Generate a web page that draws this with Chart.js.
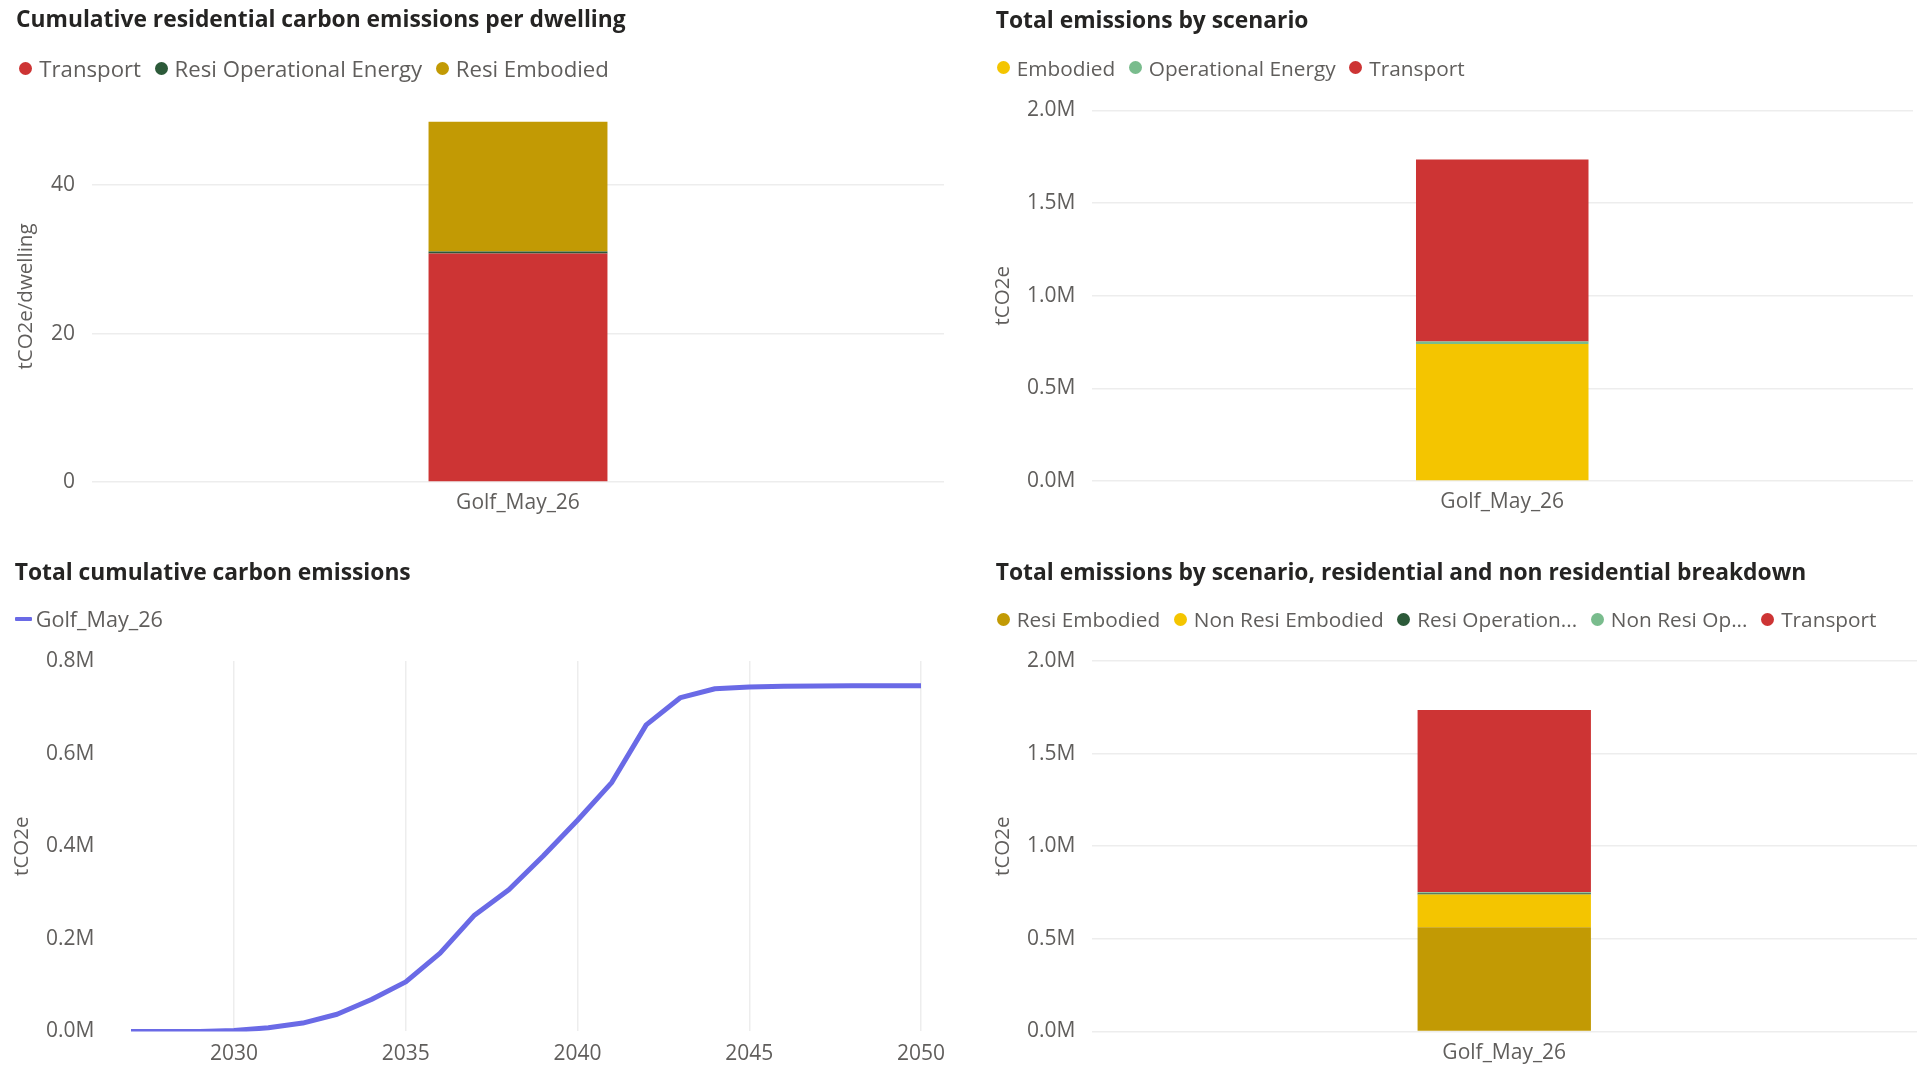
<!DOCTYPE html>
<html>
<head>
<meta charset="utf-8">
<title>Carbon emissions dashboard</title>
<script src="https://cdn.jsdelivr.net/npm/chart.js@4.4.1/dist/chart.umd.min.js"></script>
<style>
  html, body { margin: 0; padding: 0; background: #ffffff; }
  body { width: 1923px; height: 1067px; position: relative; overflow: hidden; font-family: 'Open Sans', sans-serif; }
  .panel { position: absolute; }
  .panel canvas { position: absolute; left: 0; top: 0; }
  .title { position: absolute; white-space: nowrap; font-weight: 700; font-size: 22.8px; color: #252423; line-height: 30px; height: 30px; }
  .legend { position: absolute; white-space: nowrap; font-size: 20.8px; color: #605E5C; line-height: 30px; height: 30px; display: flex; align-items: center; }
  .legend.large { font-size: 22.2px; }
  .legend.line { font-size: 21.6px; }
  .legend .item { display: flex; align-items: center; margin-right: 13.6px; }
  .legend .dot { width: 13px; height: 13px; border-radius: 50%; margin-right: 7px; flex: none; }
  .legend .dash { width: 17px; height: 4px; margin-right: 4px; flex: none; border-radius: 1px; }
</style>
</head>
<body>

<div class="panel" style="left:0px; top:0px; width:960px; height:545px">
  <canvas id="cDwelling" width="960" height="545" style="width:960px;height:545px"></canvas>
  <div class="title" style="left:16px; top:4px">Cumulative residential carbon emissions per dwelling</div>
  <div class="legend large" id="lgDwelling" style="left:19.3px; top:53.7px"></div>
</div>

<div class="panel" style="left:980px; top:0px; width:943px; height:545px">
  <canvas id="cScenario" width="943" height="545" style="width:943px;height:545px"></canvas>
  <div class="title" style="left:15.8px; top:4.8px">Total emissions by scenario</div>
  <div class="legend" id="lgScenario" style="left:16.7px; top:52.5px"></div>
</div>

<div class="panel" style="left:0px; top:550px; width:960px; height:517px">
  <canvas id="cCumulative" width="960" height="517" style="width:960px;height:517px"></canvas>
  <div class="title" style="left:14.7px; top:6.7px">Total cumulative carbon emissions</div>
  <div class="legend line" id="lgCumulative" style="left:14.7px; top:54.3px"></div>
</div>

<div class="panel" style="left:980px; top:550px; width:943px; height:517px">
  <canvas id="cBreakdown" width="943" height="517" style="width:943px;height:517px"></canvas>
  <div class="title" style="left:15.8px; top:6.7px">Total emissions by scenario, residential and non residential breakdown</div>
  <div class="legend" id="lgBreakdown" style="left:16.7px; top:54.3px"></div>
</div>

<script>
// ---- Data -------------------------------------------------------------
const scenarios = ["Golf_May_26"];

// Cumulative residential emissions per dwelling (tCO2e/dwelling)
const dwellingSeries = ["Transport", "Resi Operational Energy", "Resi Embodied"];
const dwellingTransport = [30.8];
const dwellingResiOperational = [0.25];
const dwellingResiEmbodied = [17.5];

// Total emissions by scenario (tCO2e)
const scenarioSeries = ["Embodied", "Operational Energy", "Transport"];
const scenarioEmbodied = [740000];
const scenarioOperational = [13000];
const scenarioTransport = [983000];

// Residential / non residential breakdown (tCO2e)
const breakdownSeries = ["Resi Embodied", "Non Resi Embodied", "Resi Operational Energy", "Non Resi Operational Energy", "Transport"];
const breakdownLegendText = ["Resi Embodied", "Non Resi Embodied", "Resi Operation...", "Non Resi Op...", "Transport"];
const resiEmbodied = [563000];
const nonResiEmbodied = [176000];
const resiOperational = [7000];
const nonResiOperational = [6000];
const breakdownTransport = [984000];

// Total cumulative carbon emissions over time (tCO2e)
const years = [2027, 2028, 2029, 2030, 2031, 2032, 2033, 2034, 2035, 2036, 2037, 2038,
               2039, 2040, 2041, 2042, 2043, 2044, 2045, 2046, 2047, 2048, 2049, 2050];
const cumulativeEmissions = [0, 0, 0, 2000, 8000, 18000, 37000, 69000, 107000, 169000, 251000, 306000,
                             379000, 456000, 538000, 662000, 721000, 740000, 744000, 745500, 746000, 746500, 746500, 746500];
const yearTicks = [2030, 2035, 2040, 2045, 2050];

// ---- Styling ----------------------------------------------------------
const COLORS = {
  transport: '#CD3434',
  resiOperational: '#2C5A39',
  resiEmbodied: '#C29A04',
  embodied: '#F4C500',
  operational: '#79BC8D',
  line: '#6A6AE6'
};
const TEXT_GREY = '#605E5C';
const GRID = '#EDEDED';
const TICK_FONT = { family: 'Open Sans', size: 21 };
const AXIS_TITLE_FONT = { family: 'Open Sans', size: 20.5 };

Chart.defaults.font.family = 'Open Sans';
Chart.defaults.color = TEXT_GREY;

const fmtMillions = v => (v / 1e6).toFixed(1) + 'M';

// HTML legend built from the chart's own legend items
const htmlLegend = {
  id: 'htmlLegend',
  afterUpdate(chart, args, opts) {
    const box = document.getElementById(opts.containerID);
    if (!box) return;
    box.innerHTML = '';
    const items = chart.options.plugins.legend.labels.generateLabels(chart);
    items.forEach((it, i) => {
      const el = document.createElement('span');
      el.className = 'item';
      const mark = document.createElement('span');
      mark.className = opts.marker === 'line' ? 'dash' : 'dot';
      mark.style.background = opts.marker === 'line' ? it.strokeStyle : it.fillStyle;
      const tx = document.createElement('span');
      tx.textContent = (opts.texts && opts.texts[i]) || it.text;
      el.appendChild(mark);
      el.appendChild(tx);
      box.appendChild(el);
    });
  }
};

// Value axis with a fixed box width so the plot area sits where intended
function valueAxis(cfg) {
  return {
    stacked: cfg.stacked,
    min: 0,
    max: cfg.max,
    border: { display: false },
    grid: { display: cfg.grid !== false, color: GRID, lineWidth: 1.5, drawTicks: false },
    ticks: { stepSize: cfg.step, includeBounds: false, padding: cfg.tickPad, color: TEXT_GREY, font: TICK_FONT, callback: cfg.format },
    title: { display: true, text: cfg.title, color: TEXT_GREY, font: AXIS_TITLE_FONT, padding: { top: cfg.titlePad, bottom: 0 } },
    afterFit(scale) { scale.width = cfg.width; scale.paddingTop = 0; scale.paddingBottom = 0; }
  };
}

function categoryAxis(cfg) {
  return {
    stacked: true,
    border: { display: false },
    grid: { display: false, drawTicks: false },
    ticks: { padding: cfg.tickPad, color: TEXT_GREY, font: TICK_FONT },
    afterFit(scale) { scale.height = cfg.height; scale.paddingLeft = 0; scale.paddingRight = 0; }
  };
}

function bar(label, data, color) {
  return { label, data, backgroundColor: color, borderWidth: 0, barPercentage: 0.21, categoryPercentage: 1 };
}

function baseOptions(padding) {
  return {
    responsive: false,
    animation: false,
    devicePixelRatio: 1,
    layout: { padding },
    plugins: { legend: { display: false }, title: { display: false }, tooltip: { enabled: false } }
  };
}

// ---- Cumulative residential carbon emissions per dwelling -------------
new Chart(document.getElementById('cDwelling'), {
  type: 'bar',
  data: {
    labels: scenarios,
    datasets: [
      bar(dwellingSeries[0], dwellingTransport, COLORS.transport),
      bar(dwellingSeries[1], dwellingResiOperational, COLORS.resiOperational),
      bar(dwellingSeries[2], dwellingResiEmbodied, COLORS.resiEmbodied)
    ]
  },
  options: Object.assign(baseOptions({ left: 0, top: 111, right: 16, bottom: 0 }), {
    scales: {
      x: categoryAxis({ height: 545 - 482, tickPad: 8.5 }),
      y: valueAxis({ stacked: true, max: 50, step: 20, width: 92, tickPad: 17, title: 'tCO2e/dwelling', titlePad: 13.5, format: v => String(v) })
    },
    plugins: { legend: { display: false }, tooltip: { enabled: false }, htmlLegend: { containerID: 'lgDwelling' } }
  }),
  plugins: [htmlLegend]
});

// ---- Total emissions by scenario --------------------------------------
new Chart(document.getElementById('cScenario'), {
  type: 'bar',
  data: {
    labels: scenarios,
    datasets: [
      bar(scenarioSeries[0], scenarioEmbodied, COLORS.embodied),
      bar(scenarioSeries[1], scenarioOperational, COLORS.operational),
      bar(scenarioSeries[2], scenarioTransport, COLORS.transport)
    ]
  },
  options: Object.assign(baseOptions({ left: 0, top: 110.5, right: 10, bottom: 0 }), {
    scales: {
      x: categoryAxis({ height: 545 - 481, tickPad: 8 }),
      y: valueAxis({ stacked: true, max: 2000000, step: 500000, width: 111.5, tickPad: 16, title: 'tCO2e', titlePad: 10.7, format: fmtMillions })
    },
    plugins: { legend: { display: false }, tooltip: { enabled: false }, htmlLegend: { containerID: 'lgScenario' } }
  }),
  plugins: [htmlLegend]
});

// ---- Total cumulative carbon emissions --------------------------------
new Chart(document.getElementById('cCumulative'), {
  type: 'line',
  data: {
    datasets: [{
      label: scenarios[0],
      data: years.map((y, i) => ({ x: y, y: cumulativeEmissions[i] })),
      borderColor: COLORS.line,
      backgroundColor: COLORS.line,
      borderWidth: 5,
      borderCapStyle: 'round',
      borderJoinStyle: 'round',
      pointRadius: 0,
      tension: 0,
      fill: false
    }]
  },
  options: Object.assign(baseOptions({ left: 0, top: 111, right: 39, bottom: 0 }), {
    scales: {
      x: {
        type: 'linear',
        min: years[0],
        max: years[years.length - 1],
        border: { display: false },
        grid: { display: true, color: GRID, lineWidth: 1.5, drawTicks: false },
        ticks: { padding: 10.5, color: TEXT_GREY, font: TICK_FONT, callback: v => String(v) },
        afterBuildTicks(scale) { scale.ticks = yearTicks.map(v => ({ value: v })); },
        afterFit(scale) { scale.height = 517 - 481.4; scale.paddingLeft = 0; scale.paddingRight = 0; }
      },
      y: valueAxis({ stacked: false, grid: false, max: 800000, step: 200000, width: 131, tickPad: 36.6, title: 'tCO2e', titlePad: 9.7, format: fmtMillions })
    },
    plugins: { legend: { display: false }, tooltip: { enabled: false }, htmlLegend: { containerID: 'lgCumulative', marker: 'line' } }
  }),
  plugins: [htmlLegend]
});

// ---- Residential / non residential breakdown --------------------------
new Chart(document.getElementById('cBreakdown'), {
  type: 'bar',
  data: {
    labels: scenarios,
    datasets: [
      bar(breakdownSeries[0], resiEmbodied, COLORS.resiEmbodied),
      bar(breakdownSeries[1], nonResiEmbodied, COLORS.embodied),
      bar(breakdownSeries[2], resiOperational, COLORS.resiOperational),
      bar(breakdownSeries[3], nonResiOperational, COLORS.operational),
      bar(breakdownSeries[4], breakdownTransport, COLORS.transport)
    ]
  },
  options: Object.assign(baseOptions({ left: 0, top: 111, right: 6, bottom: 0 }), {
    scales: {
      x: categoryAxis({ height: 517 - 481.4, tickPad: 9.4 }),
      y: valueAxis({ stacked: true, max: 2000000, step: 500000, width: 111.5, tickPad: 16, title: 'tCO2e', titlePad: 10.7, format: fmtMillions })
    },
    plugins: { legend: { display: false }, tooltip: { enabled: false }, htmlLegend: { containerID: 'lgBreakdown', texts: breakdownLegendText } }
  }),
  plugins: [htmlLegend]
});
</script>
</body>
</html>
